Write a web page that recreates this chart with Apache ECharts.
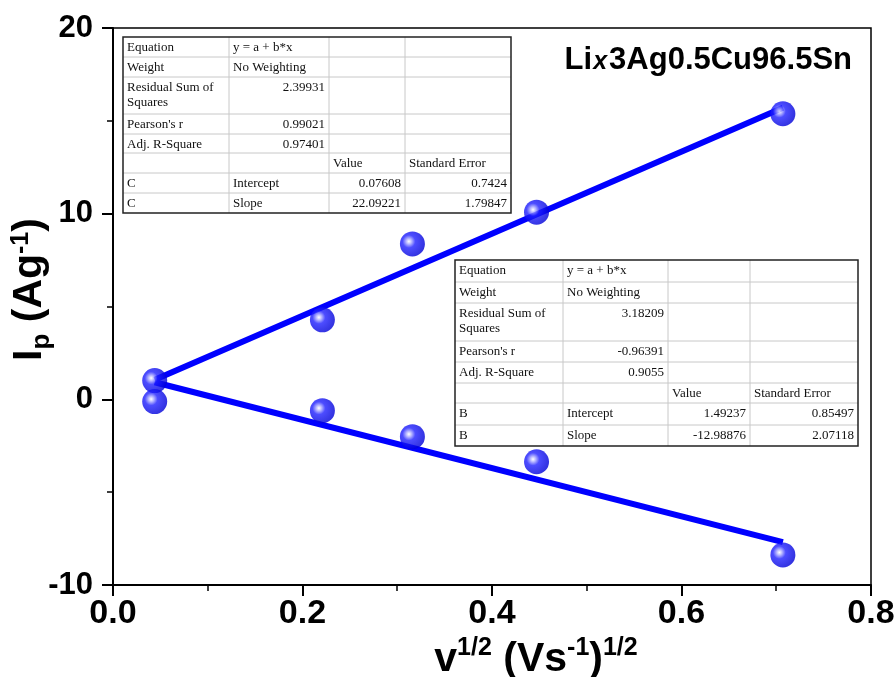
<!DOCTYPE html>
<html>
<head>
<meta charset="utf-8">
<script src="https://cdn.jsdelivr.net/npm/echarts@6/dist/echarts.min.js"></script>
<style>
html,body{margin:0;padding:0;background:#fff;}
#chart{width:895px;height:677px;}
</style>
</head>
<body>
<div id="chart"></div>
<script>
// ---- data ----
const scanRateSqrt = [0.044, 0.221, 0.316, 0.447, 0.707];
const peakC = [1.01, 4.28, 8.37, 10.08, 15.38];
const peakB = [-0.12, -0.61, -2.01, -3.36, -8.38];
const fitX = [0.044, 0.707];
const fitC = [1.05, 15.70];
const fitB = [0.92, -7.69];
const xTicks = ['0.0', '0.2', '0.4', '0.6', '0.8'];
const yTicks = ['-10', '0', '10', '20'];

const table1 = [
  ['Equation', 'y = a + b*x', '', ''],
  ['Weight', 'No Weighting', '', ''],
  ['Residual Sum of\nSquares', '2.39931', '', ''],
  ["Pearson's r", '0.99021', '', ''],
  ['Adj. R-Square', '0.97401', '', ''],
  ['', '', 'Value', 'Standard Error'],
  ['C', 'Intercept', '0.07608', '0.7424'],
  ['C', 'Slope', '22.09221', '1.79847']
];
const table2 = [
  ['Equation', 'y = a + b*x', '', ''],
  ['Weight', 'No Weighting', '', ''],
  ['Residual Sum of\nSquares', '3.18209', '', ''],
  ["Pearson's r", '-0.96391', '', ''],
  ['Adj. R-Square', '0.9055', '', ''],
  ['', '', 'Value', 'Standard Error'],
  ['B', 'Intercept', '1.49237', '0.85497'],
  ['B', 'Slope', '-12.98876', '2.07118']
];

// ---- layout ----
const t1Cols = [123, 229, 329, 405, 511];
const t1Rows = [37, 57, 77, 114, 134, 153, 173, 193, 213];
const t2Cols = [455, 563, 668, 750, 858];
const t2Rows = [260, 282, 303, 341, 362, 383, 403, 425, 446];

function pair(xs, ys) { return xs.map((x, i) => [x, ys[i]]); }

function buildTable(data, cols, rows) {
  const children = [];
  const x0 = cols[0], x1 = cols[cols.length - 1];
  const y0 = rows[0], y1 = rows[rows.length - 1];
  children.push({type: 'rect', shape: {x: x0, y: y0, width: x1 - x0, height: y1 - y0},
    style: {fill: '#fff', stroke: null}, z: 10});
  for (let i = 1; i < rows.length - 1; i++) {
    children.push({type: 'line', shape: {x1: x0, y1: rows[i], x2: x1, y2: rows[i]},
      style: {stroke: '#c8c8c8', lineWidth: 1}, z: 11});
  }
  for (let j = 1; j < cols.length - 1; j++) {
    children.push({type: 'line', shape: {x1: cols[j], y1: y0, x2: cols[j], y2: y1},
      style: {stroke: '#c8c8c8', lineWidth: 1}, z: 11});
  }
  children.push({type: 'rect', shape: {x: x0, y: y0, width: x1 - x0, height: y1 - y0},
    style: {fill: null, stroke: '#222', lineWidth: 1.5}, z: 12});
  data.forEach((row, i) => {
    row.forEach((txt, j) => {
      if (!txt) return;
      const numeric = /^-?[0-9.]+$/.test(txt);
      children.push({
        type: 'text', z: 13,
        style: {
          text: txt,
          x: numeric ? cols[j + 1] - 4 : cols[j] + 4,
          y: rows[i] + 3,
          align: numeric ? 'right' : 'left',
          verticalAlign: 'top',
          font: '13px "Liberation Serif", "Times New Roman", serif',
          lineHeight: 15,
          fill: '#111'
        }
      });
    });
  });
  return {type: 'group', children: children};
}

const chart = echarts.init(document.getElementById('chart'), null, {renderer: 'canvas'});

const sphere = {
  type: 'radial', x: 0.36, y: 0.4, r: 0.64,
  colorStops: [
    {offset: 0, color: '#ffffff'},
    {offset: 0.15, color: '#b0b0ff'},
    {offset: 0.4, color: '#2020ff'},
    {offset: 1, color: '#0000d8'}
  ]
};

const axisFont = 'Arial, "Liberation Sans", sans-serif';

chart.setOption({
  animation: false,
  backgroundColor: '#fff',
  title: {
    text: '{a|Li}{x|x}{a|3Ag0.5Cu96.5Sn}',
    right: 38, top: 37,
    textStyle: {
      rich: {
        a: {fontFamily: axisFont, fontWeight: 'bold', fontSize: 31, color: '#000', lineHeight: 34, verticalAlign: 'bottom'},
        x: {fontFamily: axisFont, fontStyle: 'italic', fontSize: 25, color: '#000', lineHeight: 25, verticalAlign: 'bottom', padding: [0, 2, 1, 1]}
      }
    }
  },
  grid: {left: 113, top: 28, width: 758, height: 557, show: true, borderColor: '#000', borderWidth: 1.5,
    containLabel: false, outerBoundsMode: 'none'},
  xAxis: {
    type: 'value', min: 0, max: 0.8, interval: 0.2,
    axisLine: {show: true, onZero: false, lineStyle: {color: '#000', width: 2}},
    axisTick: {show: true, inside: false, length: 11, lineStyle: {color: '#000', width: 2}},
    minorTick: {show: true, splitNumber: 2, length: 6, lineStyle: {color: '#000', width: 1.5}},
    splitLine: {show: false},
    axisLabel: {
      margin: 12, color: '#000', fontFamily: axisFont, fontWeight: 'bold', fontSize: 34,
      formatter: (v) => xTicks[Math.round(v / 0.2)]
    },
    name: '{b|v}{s|1/2}{b| (Vs}{s|-1}{b|)}{s|1/2}',
    nameLocation: 'middle', nameGap: 44,
    nameTextStyle: {
      padding: [0, 0, 0, 88],
      rich: {
        b: {fontFamily: axisFont, fontWeight: 'bold', fontSize: 41, color: '#000', lineHeight: 44, verticalAlign: 'bottom'},
        s: {fontFamily: axisFont, fontWeight: 'bold', fontSize: 25, color: '#000', lineHeight: 25, verticalAlign: 'top'}
      }
    }
  },
  yAxis: {
    type: 'value', min: -10, max: 20, interval: 10,
    axisLine: {show: true, onZero: false, lineStyle: {color: '#000', width: 2}},
    axisTick: {show: true, inside: false, length: 11, lineStyle: {color: '#000', width: 2}},
    minorTick: {show: true, splitNumber: 2, length: 6, lineStyle: {color: '#000', width: 1.5}},
    splitLine: {show: false},
    axisLabel: {
      margin: 20, color: '#000', fontFamily: axisFont, fontWeight: 'bold', fontSize: 31,
      formatter: (v) => yTicks[Math.round((v + 10) / 10)]
    },
    name: '{b|I}{p|p}{b| (Ag}{s|-1}{b|)}',
    nameLocation: 'middle', nameRotate: 90, nameGap: 58, nameMoveOverlap: false,
    nameTextStyle: {
      padding: [0, 0, 0, 34],
      rich: {
        b: {fontFamily: axisFont, fontWeight: 'bold', fontSize: 41, color: '#000', lineHeight: 46, verticalAlign: 'top'},
        p: {fontFamily: axisFont, fontWeight: 'bold', fontSize: 26, color: '#000', lineHeight: 26, verticalAlign: 'bottom'},
        s: {fontFamily: axisFont, fontWeight: 'bold', fontSize: 25, color: '#000', lineHeight: 25, verticalAlign: 'top'}
      }
    }
  },
  series: [
    {type: 'line', data: pair(fitX, fitC), symbol: 'none', lineStyle: {color: '#0000ff', width: 6}, z: 2},
    {type: 'line', data: pair(fitX, fitB), symbol: 'none', lineStyle: {color: '#0000ff', width: 6}, z: 2},
    {type: 'scatter', data: pair(scanRateSqrt, peakC), symbolSize: 25, itemStyle: {color: sphere}, z: 5},
    {type: 'scatter', data: pair(scanRateSqrt, peakB), symbolSize: 25, itemStyle: {color: sphere}, z: 5}
  ],
  graphic: [buildTable(table1, t1Cols, t1Rows), buildTable(table2, t2Cols, t2Rows)]
});
</script>
</body>
</html>
